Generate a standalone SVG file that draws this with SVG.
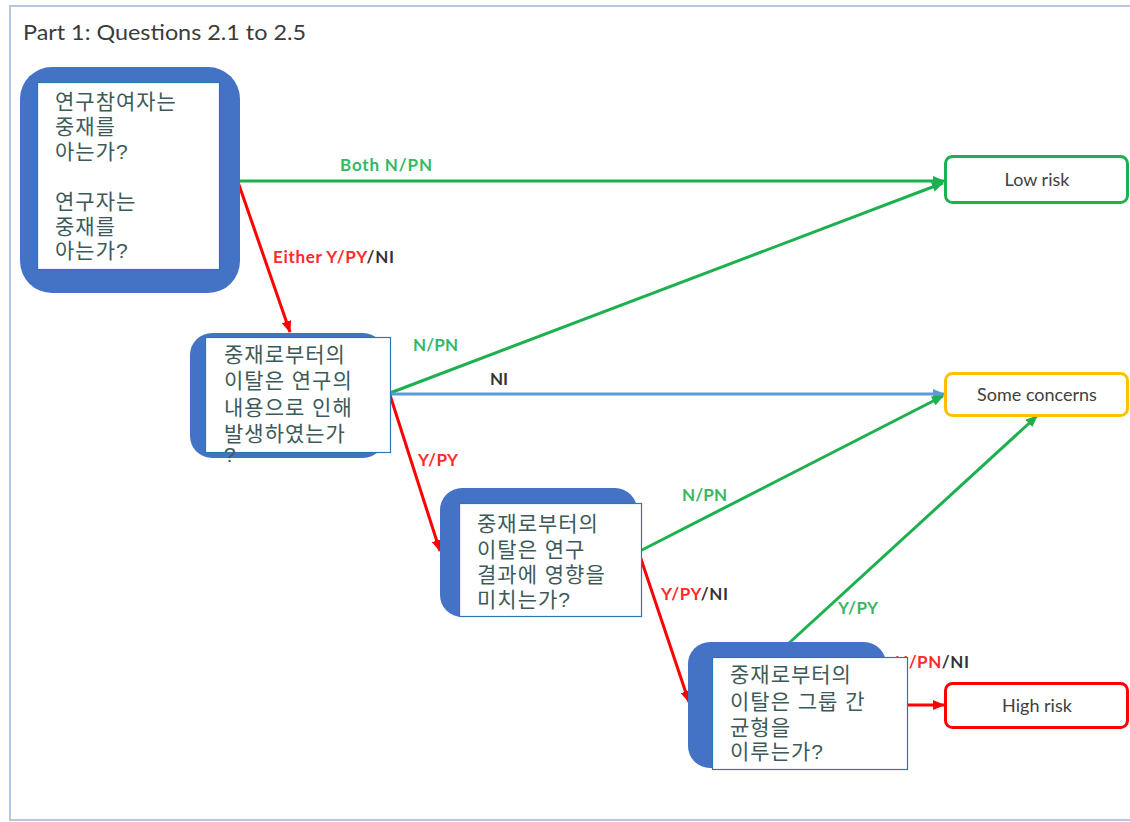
<svg xmlns="http://www.w3.org/2000/svg" width="1130" height="822" viewBox="0 0 1130 822">
  <style>
    .frame { fill: #ffffff; stroke: #b7c8dc; stroke-width: 2; }
    .title { font-family: Lato, "Liberation Sans", sans-serif; font-size: 21px; fill: #3b3b3b; }
    .outer { fill: #4472c4; }
    .inner { fill: #ffffff; stroke: #2e75b6; stroke-width: 1.2; }
    .q { font-family: "Liberation Sans", "Noto Sans CJK KR", sans-serif; font-size: 21px; fill: #3d5a5a; letter-spacing: 1px; }
    .out { fill: #ffffff; stroke-width: 3; }
    .otext { font-family: Lato, "Liberation Sans", sans-serif; font-size: 18px; fill: #404040; text-anchor: middle; }
    .edge { fill: none; stroke-width: 3; }
    .g { stroke: #1db04e; }
    .r { stroke: #ff0000; }
    .b { stroke: #5b9bd5; }
    .lbl { font-family: Lato, "Liberation Sans", sans-serif; font-size: 17px; font-weight: bold; }
    .lg { fill: #35b866; }
    .lr { fill: #ff2a2a; }
    .lk { fill: #333333; }
  </style>
  <defs>
    <marker id="ahG" markerUnits="userSpaceOnUse" markerWidth="12" markerHeight="10" refX="11" refY="5" orient="auto">
      <path d="M0,0 L12,5 L0,10 z" fill="#1db04e"/>
    </marker>
    <marker id="ahR" markerUnits="userSpaceOnUse" markerWidth="12" markerHeight="10" refX="11" refY="5" orient="auto">
      <path d="M0,0 L12,5 L0,10 z" fill="#ff0000"/>
    </marker>
    <marker id="ahB" markerUnits="userSpaceOnUse" markerWidth="12" markerHeight="10" refX="11" refY="5" orient="auto">
      <path d="M0,0 L12,5 L0,10 z" fill="#5b9bd5"/>
    </marker>
  </defs>

  <!-- page frame and heading -->
  <rect class="frame" x="10" y="6" width="1140" height="814"/>
  <text class="title" x="23" y="40" textLength="283" lengthAdjust="spacingAndGlyphs">Part 1: Questions 2.1 to 2.5</text>

  <!-- connectors -->
  <g id="connectors">
    <line class="edge g" x1="238" y1="181" x2="944" y2="181" marker-end="url(#ahG)"/>
    <line class="edge r" x1="238" y1="182" x2="290" y2="332" marker-end="url(#ahR)"/>
    <line class="edge g" x1="390" y1="393" x2="943" y2="183" marker-end="url(#ahG)"/>
    <line class="edge b" x1="390" y1="394" x2="944" y2="394" marker-end="url(#ahB)"/>
    <line class="edge r" x1="390" y1="395" x2="440" y2="551" marker-end="url(#ahR)"/>
    <line class="edge g" x1="640" y1="551" x2="943" y2="396" marker-end="url(#ahG)"/>
    <line class="edge r" x1="640" y1="556" x2="689" y2="702" marker-end="url(#ahR)"/>
    <line class="edge g" x1="788" y1="644" x2="1037" y2="416" marker-end="url(#ahG)"/>
    <line class="edge r" x1="906" y1="705" x2="944" y2="705" marker-end="url(#ahR)"/>

    <text class="lbl" x="340" y="171" textLength="92"><tspan class="lg">Both N/PN</tspan></text>
    <text class="lbl" x="273" y="263" textLength="121"><tspan class="lr">Either Y/PY</tspan><tspan class="lk">/NI</tspan></text>
    <text class="lbl lg" x="413" y="351" textLength="45">N/PN</text>
    <text class="lbl lk" x="490" y="385">NI</text>
    <text class="lbl lr" x="418" y="466" textLength="40">Y/PY</text>
    <text class="lbl lg" x="682" y="501" textLength="45">N/PN</text>
    <text class="lbl" x="661" y="600" textLength="67"><tspan class="lr">Y/PY</tspan><tspan class="lk">/NI</tspan></text>
    <text class="lbl lg" x="838" y="614" textLength="40">Y/PY</text>
    <text class="lbl" x="895" y="668" textLength="74"><tspan class="lr">N/PN</tspan><tspan class="lk">/NI</tspan></text>
  </g>

  <!-- question nodes -->
  <g id="q-aware">
    <rect class="outer" x="20" y="67" width="220" height="226" rx="32"/>
    <rect class="inner" x="37.5" y="82.5" width="182" height="187"/>
    <text class="q" x="55" y="109">연구참여자는<tspan x="55" dy="25">중재를</tspan><tspan x="55" dy="25">아는가?</tspan><tspan x="55" dy="50">연구자는</tspan><tspan x="55" dy="25">중재를</tspan><tspan x="55" dy="24">아는가?</tspan></text>
  </g>

  <g id="q-context">
    <rect class="outer" x="190" y="333" width="195" height="125" rx="22"/>
    <rect class="inner" x="205.5" y="337.5" width="185" height="115"/>
    <text class="q" x="224" y="362">중재로부터의<tspan x="224" dy="26">이탈은 연구의</tspan><tspan x="224" dy="27">내용으로 인해</tspan><tspan x="224" dy="26">발생하였는가</tspan><tspan x="224" dy="21">?</tspan></text>
  </g>

  <g id="q-result">
    <rect class="outer" x="440" y="488" width="197" height="129" rx="22"/>
    <rect class="inner" x="459.5" y="503.5" width="182" height="113"/>
    <text class="q" x="477" y="531">중재로부터의<tspan x="477" dy="26">이탈은 연구</tspan><tspan x="477" dy="25">결과에 영향을</tspan><tspan x="477" dy="25">미치는가?</tspan></text>
  </g>

  <g id="q-balance">
    <rect class="outer" x="688" y="642" width="198" height="126" rx="22"/>
    <rect class="inner" x="712.5" y="657.5" width="195" height="112"/>
    <text class="q" x="730" y="682">중재로부터의<tspan x="730" dy="27">이탈은 그룹 간</tspan><tspan x="730" dy="26">균형을</tspan><tspan x="730" dy="24">이루는가?</tspan></text>
  </g>

  <!-- outcome nodes -->
  <g id="out-low">
    <rect class="out" x="945.5" y="156.5" width="182" height="46" rx="7" stroke="#1db04e"/>
    <text class="otext" x="1037" y="186">Low risk</text>
  </g>
  <g id="out-some">
    <rect class="out" x="945.5" y="373.5" width="182" height="42" rx="7" stroke="#ffc000"/>
    <text class="otext" x="1037" y="401">Some concerns</text>
  </g>
  <g id="out-high">
    <rect class="out" x="945.5" y="683.5" width="182" height="44" rx="7" stroke="#ff0000"/>
    <text class="otext" x="1037" y="712">High risk</text>
  </g>
</svg>
